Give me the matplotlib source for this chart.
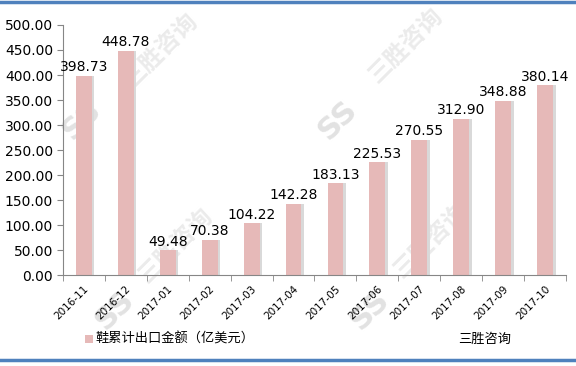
import matplotlib
matplotlib.use("Agg")
import matplotlib.pyplot as plt
from matplotlib.lines import Line2D
from matplotlib.patches import Rectangle
import numpy as np

plt.rcParams['font.family'] = ['DejaVu Sans', 'Noto Sans CJK SC']

# data
months = ["2016-11", "2016-12", "2017-01", "2017-02", "2017-03", "2017-04",
          "2017-05", "2017-06", "2017-07", "2017-08", "2017-09", "2017-10"]
values = [398.73, 448.78, 49.48, 70.38, 104.22, 142.28,
          183.13, 225.53, 270.55, 312.90, 348.88, 380.14]
legend_label = "鞋累计出口金额（亿美元）"
source_label = "三胜咨询"
watermark = "三胜咨询"

bar_color = "#E6B9B8"
axis_color = "#868686"
frame_blue = "#4F81BD"
cjk = ['Noto Sans CJK SC', 'DejaVu Sans']

fig = plt.figure(figsize=(5.76, 3.66), dpi=100)

# faint watermarks behind the chart (figure pixel centres)
for cx, cy in [(160, 50), (405, 45), (175, 245), (430, 240)]:
    fig.text(cx / 576, 1 - cy / 366, watermark, fontsize=17, rotation=45, color="#ebebeb",
             ha="center", va="center", weight="bold", family=cjk, zorder=-2)
for cx, cy in [(82, 120), (338, 120), (115, 310), (370, 310)]:
    fig.text(cx / 576, 1 - cy / 366, "SS", fontsize=22, rotation=45, color="#e2e2e2",
             ha="center", va="center", weight="bold", zorder=-2)

ax = fig.add_axes([0.109, 0.2486, 0.874, 0.6831])
ax.patch.set_alpha(0)

x = np.arange(len(months))
# faint shadow then bar
ax.bar(x + 0.06, values, width=0.38, color="#D9D9D9", zorder=1)
ax.bar(x, values, width=0.38, color=bar_color, zorder=2)

for xi, v in zip(x, values):
    ax.annotate(f"{v:.2f}", (xi, v), xytext=(0, 1), textcoords="offset points",
                ha="center", va="bottom", fontsize=10, color="black", zorder=3)

ax.set_xlim(-0.5, len(months) - 0.5)
ax.set_ylim(0, 500)
ax.set_yticks(np.arange(0, 501, 50))
ax.set_yticklabels([f"{t:.2f}" for t in np.arange(0, 501, 50)], fontsize=10)

ax.set_xticks(x)
ax.set_xticklabels(months, rotation=45, ha="right", rotation_mode="anchor", fontsize=7.5)
ax.tick_params(axis="x", length=0, pad=6)
ax.set_xticks(np.arange(-0.5, len(months), 1), minor=True)
ax.tick_params(axis="x", which="minor", length=4, color=axis_color)
ax.tick_params(axis="y", length=4, color=axis_color, pad=3)

for s in ["top", "right"]:
    ax.spines[s].set_visible(False)
for s in ["left", "bottom"]:
    ax.spines[s].set_color(axis_color)

# legend-like labels
fig.patches.append(Rectangle((0.148, 0.062), 0.014, 0.022, transform=fig.transFigure,
                             facecolor=bar_color, edgecolor="none"))
fig.text(0.166, 0.073, legend_label, fontsize=9.5, va="center", ha="left",
         family=cjk, weight="medium")
fig.text(0.795, 0.073, source_label, fontsize=9.5, va="center", ha="left",
         family=cjk, weight="medium")

# blue frame lines
fig.add_artist(Line2D([0, 1], [0.994, 0.994], color=frame_blue, lw=2.5, transform=fig.transFigure))
fig.add_artist(Line2D([0, 1], [0.016, 0.016], color=frame_blue, lw=2.5, transform=fig.transFigure))

fig.savefig("out.png", dpi=100)
